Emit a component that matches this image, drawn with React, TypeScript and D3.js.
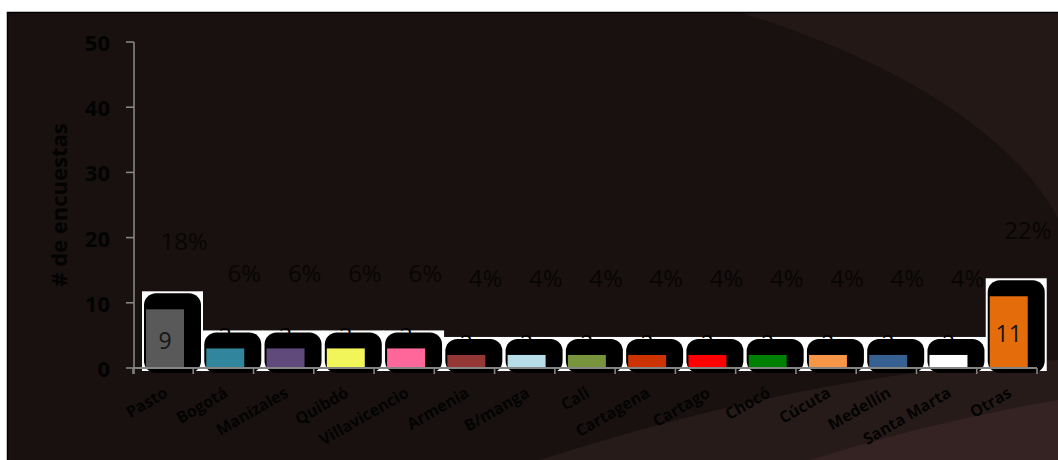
import React from 'react';
import * as d3 from 'd3';

const categories = ['Pasto', 'Bogotá', 'Manizales', 'Quibdó', 'Villavicencio', 'Armenia', 'B/manga', 'Cali', 'Cartagena', 'Cartago', 'Chocó', 'Cúcuta', 'Medellín', 'Santa Marta', 'Otras'];
const counts = [9, 3, 3, 3, 3, 2, 2, 2, 2, 2, 2, 2, 2, 2, 11];
const percentValues = [18, 6, 6, 6, 6, 4, 4, 4, 4, 4, 4, 4, 4, 4, 22];
const percentLabels = ['18%', '6%', '6%', '6%', '6%', '4%', '4%', '4%', '4%', '4%', '4%', '4%', '4%', '4%', '22%'];
const barColors = ['#595959', '#31859c', '#604a7b', '#f2f55a', '#ff6699', '#953735', '#b7dee8', '#77933c', '#cc3300', '#ff0000', '#008000', '#f79646', '#376092', '#ffffff', '#e46c0a'];
const yTicks = [0, 10, 20, 30, 40, 50];

const W = 1058;
const H = 460;
const FONT = "'Open Sans', 'Noto Sans', sans-serif";
const TXT = '#030303';

export default function App() {
  const x = d3.scaleBand<string>().domain(categories).range([133, 1037]).padding(0);
  const y = d3.scaleLinear().domain([0, 50]).range([368, 42]);
  const pctY = d3.scaleLinear().domain([0, 50]).range([288, 155]);
  const bw = x.bandwidth();
  const barW = 38;
  const barOff = 13;
  const base = y(0);

  const band1 = d3.path();
  band1.moveTo(540, H);
  band1.quadraticCurveTo(820, 370, W, 360);
  band1.lineTo(W, H);
  band1.closePath();
  const band2 = d3.path();
  band2.moveTo(810, H);
  band2.quadraticCurveTo(930, 422, W, 400);
  band2.lineTo(W, H);
  band2.closePath();

  return (
    <svg width={W} height={H} style={{ position: 'absolute', left: 0, top: 0, background: '#fff' }}>
      <defs>
        <clipPath id="area">
          <rect x={8} y={13} width={W} height={H} />
        </clipPath>
      </defs>
      <rect x={0} y={0} width={W} height={H} fill="#ffffff" />
      <g clipPath="url(#area)">
        <rect x={7} y={12} width={W} height={H} fill="#241816" />
        <ellipse cx={300} cy={300} rx={780} ry={348} fill="#181110" />
        <path d={band1.toString()} fill="#271b1a" />
        <path d={band2.toString()} fill="#342322" />
      </g>
      <rect x={7.5} y={12.5} width={W + 10} height={H + 10} fill="none" stroke="#000" strokeWidth={1.5} />

      {/* white backing and black label boxes */}
      {categories.map((c, i) => {
        const bx = (x(c) as number) + barOff;
        const top = y(counts[i]) - 16;
        return (
          <rect key={'w' + c} x={bx - 4} y={top - 2} width={61} height={371 - (top - 2)} fill="#ffffff" />
        );
      })}
      {categories.map((c, i) => {
        const bx = (x(c) as number) + barOff;
        const top = y(counts[i]) - 16;
        return (
          <rect key={'k' + c} x={bx - 2} y={top} width={57} height={373 - top} rx={12} ry={12} fill="#000000" />
        );
      })}

      {/* value labels (behind bars for small values) */}
      {categories.map((c, i) => {
        const v = counts[i];
        if (v >= 5) return null;
        const cx = (x(c) as number) + barOff + barW / 2;
        return (
          <text key={'s' + c} x={cx} y={y(v) - 12} textAnchor="middle" dominantBaseline="central" fontFamily={FONT} fontSize={23} fill="#000">
            {v}
          </text>
        );
      })}

      {/* bars */}
      {categories.map((c, i) => (
        <rect key={'b' + c} x={(x(c) as number) + barOff} y={y(counts[i])} width={barW} height={base - y(counts[i])} fill={barColors[i]} />
      ))}

      {categories.map((c, i) => {
        const v = counts[i];
        if (v < 5) return null;
        const cx = (x(c) as number) + barOff + barW / 2;
        return (
          <text key={'l' + c} x={cx} y={(y(v) + base) / 2 + 1} textAnchor="middle" dominantBaseline="central" fontFamily={FONT} fontSize={23} fill="#151515">
            {v}
          </text>
        );
      })}

      {/* axes */}
      <line x1={134} x2={134} y1={y(50)} y2={374} stroke="#858585" strokeWidth={1.6} />
      {yTicks.map((t) => (
        <line key={'yt' + t} x1={126} x2={134} y1={y(t)} y2={y(t)} stroke="#858585" strokeWidth={1.6} />
      ))}
      <line x1={133} x2={1037} y1={base} y2={base} stroke="#858585" strokeWidth={1.8} />
      {categories.concat(['end']).map((c, i) => {
        const tx = 133 + i * bw;
        return <line key={'xt' + i} x1={tx} x2={tx} y1={base} y2={base + 6} stroke="#858585" strokeWidth={1.6} />;
      })}

      {yTicks.map((t) => (
        <text key={'yl' + t} x={110} y={y(t)} textAnchor="end" dominantBaseline="central" fontFamily={FONT} fontWeight={700} fontSize={22} fill={TXT}>
          {t}
        </text>
      ))}
      <text transform="translate(67,205) rotate(-90)" textAnchor="middle" fontFamily={FONT} fontWeight={700} fontSize={22} fill={TXT}>
        # de encuestas
      </text>

      {/* percentage labels */}
      {categories.map((c, i) => (
        <text key={'p' + c} x={(x(c) as number) + bw / 2 + 21} y={pctY(percentValues[i])} textAnchor="middle" dominantBaseline="central" fontFamily={FONT} fontSize={24} fill="#080505">
          {percentLabels[i]}
        </text>
      ))}

      {/* category labels */}
      {categories.map((c) => (
        <text key={'xl' + c} transform={`translate(${(x(c) as number) + bw / 2},386) rotate(-30)`} dy="0.72em" textAnchor="end" fontFamily={FONT} fontWeight={700} fontSize={16} fill={TXT}>
          {c}
        </text>
      ))}
    </svg>
  );
}
